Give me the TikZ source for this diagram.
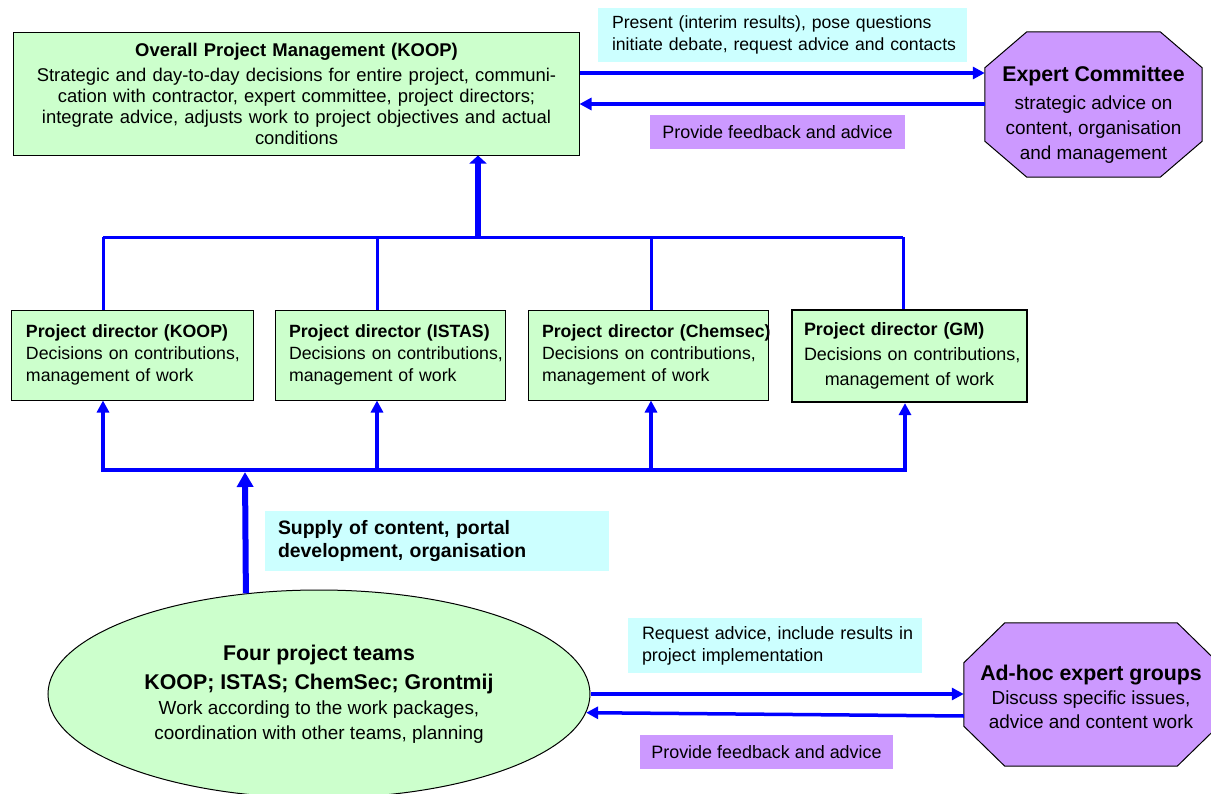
\documentclass[tikz,border=0pt]{standalone}
\usepackage{fontspec}
\setmainfont{Liberation Sans}
\usetikzlibrary{arrows.meta,calc,shapes.geometric}
\definecolor{lgreen}{RGB}{204,255,204}
\definecolor{lcyan}{RGB}{204,255,255}
\definecolor{lpurple}{RGB}{204,153,255}
\definecolor{conblue}{RGB}{0,0,255}
\newcommand\fsz[2]{\fontsize{#1}{#2}\selectfont}
\begin{document}
\begin{tikzpicture}[x=1bp,y=-1bp,
  gbox/.style={draw=black,line width=1bp,fill=lgreen,inner sep=0pt},
  dirbox/.style={gbox,minimum height=90bp,align=left,font=\fsz{17.8}{22}},
  cyanlbl/.style={fill=lcyan,inner sep=0pt},
  purplbl/.style={fill=lpurple,inner sep=0pt,font=\fsz{18}{22}},
  octo/.style={inner sep=0pt,draw=none},
  octline/.style={draw=black,line width=1bp,fill=lpurple},
  bus/.style={draw=conblue,line width=3bp},
  busb/.style={draw=conblue,line width=4bp},
  arr/.style={draw=conblue,line width=3.5bp,-{Triangle[length=12bp,width=12bp]}},
  bigarr/.style={draw=conblue,line width=6bp,-{Triangle[length=8bp,width=17bp]}},
  bigarrb/.style={draw=conblue,line width=6bp,-{Triangle[length=15bp,width=16bp]}}
]
\useasboundingbox (0,0) rectangle (1211,794);
\clip (0,0) rectangle (1211,794);

% ---- top management box
\node[gbox,minimum width=565bp,minimum height=122bp,text width=560bp,align=center,font=\fsz{18.5}{21}] (pm) at (296.5,94)
 {\textbf{Overall Project Management (KOOP)}\\[4.5bp]
  Strategic and day-to-day decisions for entire project, communi-\\
  cation with contractor, expert committee, project directors;\\
  integrate advice, adjusts work to project objectives and actual\\
  conditions};

% ---- expert committee octagon
\node[octo,minimum width=217bp,minimum height=145bp] (ec) at (1093.5,104.5) {};
\draw[octline] ($(ec.north west)+(42,0)$) -- ($(ec.north east)+(-42,0)$) -- ($(ec.north east)+(0,36)$) -- ($(ec.south east)+(0,-36)$) -- ($(ec.south east)+(-42,0)$) -- ($(ec.south west)+(42,0)$) -- ($(ec.south west)+(0,-36)$) -- ($(ec.north west)+(0,36)$) -- cycle;
\node[align=center,inner sep=0pt,font=\fsz{19}{25}] (ect) at ($(ec.center)+(0,10.5)$)
 {{\fsz{21.4}{25}\bfseries Expert Committee}\\[3bp]strategic advice on\\content, organisation\\and management};

% ---- top labels
\node[cyanlbl,minimum width=369bp,minimum height=54bp,text width=341bp,align=left,font=\fsz{17.7}{22}] (l1) at (782.5,35)
 {\mbox{Present (interim results), pose questions}\\\mbox{initiate debate, request advice and contacts}};
\node[purplbl,minimum width=255bp,minimum height=34bp] (l2) at (777.5,132) {Provide feedback and advice};

% ---- project directors
\node[dirbox,minimum width=241bp,text width=213bp] (d1) at (132.5,355)
 {\mbox{\bfseries Project director (KOOP)}\\\mbox{Decisions on contributions,}\\\mbox{management of work}};
\node[dirbox,minimum width=230bp,text width=202bp] (d2) at (390,355)
 {\mbox{\bfseries Project director (ISTAS)}\\\mbox{Decisions on contributions,}\\\mbox{management of work}};
\node[dirbox,minimum width=240bp,text width=212bp] (d3) at (648,355)
 {\mbox{\bfseries Project director (Chemsec)}\\\mbox{Decisions on contributions,}\\\mbox{management of work}};
\node[gbox,line width=2.2bp,minimum width=235bp,minimum height=92bp,text width=211bp,align=center,font=\fsz{18}{25}] (d4) at (909.5,356)
 {\mbox{\bfseries Project director (GM)}\hfill\mbox{}\\\mbox{Decisions on contributions,}\\\mbox{management of work}};

% ---- supply label
\node[cyanlbl,minimum width=344bp,minimum height=60bp,text width=318bp,align=left,font=\fsz{19.5}{22.5}\bfseries] (l3) at (437,541)
 {\mbox{Supply of content, portal}\\\mbox{development, organisation}};

% ---- project teams ellipse
\node[ellipse,draw=black,line width=1bp,fill=lgreen,inner sep=0pt,minimum width=542bp,minimum height=208bp,align=center,font=\fsz{19}{25}] (el) at (319,694)
 {{\fsz{21.4}{25}\bfseries Four project teams}\\[4bp]
  {\fsz{21.4}{25}\bfseries KOOP; ISTAS; ChemSec; Grontmij}\\
  Work according to the work packages,\\
  coordination with other teams, planning};

% ---- ad-hoc octagon
\node[octo,minimum width=254bp,minimum height=143bp] (ah) at (1091,694.5) {};
\draw[octline] ($(ah.north west)+(41,0)$) -- ($(ah.north east)+(-41,0)$) -- ($(ah.north east)+(0,40)$) -- ($(ah.south east)+(0,-40)$) -- ($(ah.south east)+(-41,0)$) -- ($(ah.south west)+(41,0)$) -- ($(ah.south west)+(0,-40)$) -- ($(ah.north west)+(0,40)$) -- cycle;
\node[align=center,inner sep=0pt,font=\fsz{19}{24}] (aht) at ($(ah.center)+(0,2.5)$)
 {{\fsz{21.4}{24}\bfseries Ad-hoc expert groups}\\Discuss specific issues,\\advice and content work};

% ---- bottom labels
\node[cyanlbl,minimum width=294bp,minimum height=55bp,text width=266bp,align=left,font=\fsz{18}{22}] (l4) at (775,645.5)
 {\mbox{Request advice, include results in}\\\mbox{project implementation}};
\node[purplbl,minimum width=253bp,minimum height=34bp] (l5) at (766.5,752) {Provide feedback and advice};

% ---- coordinates
\coordinate (r1) at (0,73);
\coordinate (r2) at (0,104);
\coordinate (r4) at (0,716);
\coordinate (tb) at (478,237);
\coordinate (t1) at (103,237);
\coordinate (t2) at (377,237);
\coordinate (t3) at (651,237);
\coordinate (t4) at (903,237);
\coordinate (u1) at (103,470);
\coordinate (u2) at (377,470);
\coordinate (u3) at (651,470);
\coordinate (u4) at (905,470);
\coordinate (ub) at (245,472);

% ---- connectors
\draw[arr] (pm.east |- r1) -- (ec.west |- r1);
\draw[arr] (ec.west |- r2) -- (pm.east |- r2);

\draw[bus] (t1) -- (t4);
\draw[bus] (t1) -- (t1 |- d1.north);
\draw[bus] (t2) -- (t2 |- d2.north);
\draw[bus] (t3) -- (t3 |- d3.north);
\draw[bus] (t4) -- (t4 |- d4.north);
\draw[bigarr] (tb) -- (tb |- pm.south);

\draw[busb,line cap=rect] (u1) -- (u4);
\draw[arr] (u1) -- (u1 |- d1.south);
\draw[arr] (u2) -- (u2 |- d2.south);
\draw[arr] (u3) -- (u3 |- d3.south);
\draw[arr] (u4) -- (u4 |- d4.south);
\draw[bigarrb] (el.126.5) -- (ub);

\draw[arr] (el.east) -- (el.east -| ah.west);
\draw[arr] (ah.west |- r4) -- (el.-4.75);
\end{tikzpicture}
\end{document}
